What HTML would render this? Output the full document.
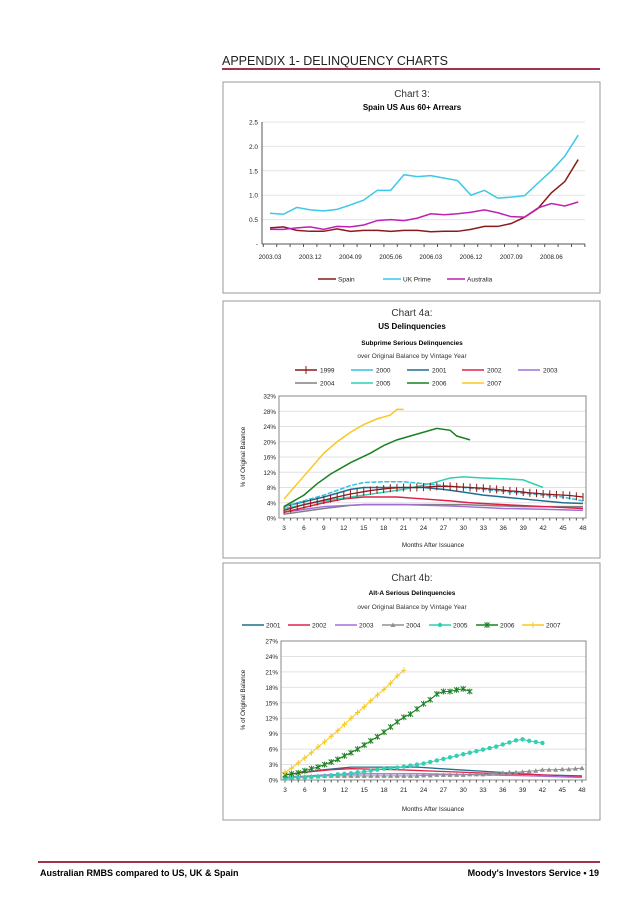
<!DOCTYPE html>
<html><head><meta charset="utf-8"><style>
body{margin:0;background:#fff;}
svg text{font-family:"Liberation Sans",sans-serif;}
</style></head><body>
<svg id="pg" width="638" height="903" xmlns="http://www.w3.org/2000/svg">
<text x="222" y="65" font-size="12.5" fill="#222">APPENDIX 1- DELINQUENCY CHARTS</text>
<line x1="222" y1="69" x2="600" y2="69" stroke="#a0344a" stroke-width="2"/>
<rect x="223" y="82" width="377" height="211" fill="#fff" stroke="#999"/>
<rect x="223" y="301" width="377" height="257" fill="#fff" stroke="#999"/>
<rect x="223" y="563" width="377" height="257" fill="#fff" stroke="#999"/>
<text x="412" y="97" font-size="10" text-anchor="middle" fill="#333">Chart 3:</text>
<text x="412" y="110" font-size="8" font-weight="bold" text-anchor="middle">Spain US Aus 60+ Arrears</text>
<text x="412" y="316" font-size="10" text-anchor="middle" fill="#333">Chart 4a:</text>
<text x="412" y="329" font-size="8" font-weight="bold" text-anchor="middle">US Delinquencies</text>
<text x="412" y="345" font-size="6.5" font-weight="bold" text-anchor="middle">Subprime Serious Delinquencies</text>
<text x="412" y="358" font-size="6.5" text-anchor="middle" fill="#333">over Original Balance by Vintage Year</text>
<text x="412" y="581" font-size="10" text-anchor="middle" fill="#333">Chart 4b:</text>
<text x="412" y="595" font-size="6.5" font-weight="bold" text-anchor="middle">Alt-A Serious Delinquencies</text>
<text x="412" y="609" font-size="6.5" text-anchor="middle" fill="#333">over Original Balance by Vintage Year</text>
<line x1="38" y1="862" x2="600" y2="862" stroke="#a0344a" stroke-width="2"/>
<text x="40" y="876" font-size="9" font-weight="bold">Australian RMBS compared to US, UK &amp; Spain</text>
<text x="599" y="876" font-size="9" font-weight="bold" text-anchor="end">Moody's Investors Service • 19</text>
<g id="c3"></g><g id="c4a"></g><g id="c4b"></g>
</svg>
<script>
// Chart 3 data
const c3Cats=["2003.03","2003.12","2004.09","2005.06","2006.03","2006.12","2007.09","2008.06"];
const c3Ticks=[0,0.5,1.0,1.5,2.0,2.5];
const spain=[0.33,0.35,0.28,0.26,0.26,0.31,0.26,0.28,0.28,0.26,0.28,0.28,0.25,0.26,0.26,0.30,0.36,0.36,0.42,0.55,0.73,1.05,1.28,1.73];
const ukPrime=[0.63,0.61,0.75,0.70,0.68,0.71,0.80,0.90,1.10,1.10,1.42,1.38,1.40,1.35,1.30,1.00,1.10,0.94,0.96,0.99,1.25,1.50,1.80,2.23];
const australia=[0.30,0.30,0.33,0.35,0.30,0.36,0.35,0.39,0.48,0.50,0.48,0.53,0.62,0.60,0.62,0.65,0.70,0.64,0.56,0.55,0.74,0.83,0.78,0.86];
// Chart 4a data
const monthTicks=[3,6,9,12,15,18,21,24,27,30,33,36,39,42,45,48];
const c4aTicks=[0,4,8,12,16,20,24,28,32];
const a1999=[2,2.5,3,3.5,3.9,4.3,4.7,5.1,5.5,5.9,6.3,6.6,6.9,7.2,7.4,7.6,7.8,7.9,8,8,8,8.1,8.2,8.3,8.3,8.3,8.2,8.1,8,7.9,7.8,7.6,7.5,7.3,7.1,7,6.8,6.6,6.5,6.3,6.2,6.1,6,5.9,5.7,5.5];
const a2000m=[3,9,13,15,18,21,24,27,30,33,36,39,42,45,48];
const a2000v=[3,6,8.5,9.3,9.5,9.5,9,8.5,8,7.5,7,6.5,6,5.5,4.5];
const a2001m=[3,9,13,15,24,27,30,33,36,39,42,45,48];
const a2001v=[3,5.5,7.5,8,8,7.5,6.8,6,5.5,5,4.5,4,3.8];
const a2002m=[3,9,12,15,20,24,28,31,36,42,48];
const a2002v=[1.5,4,5,5.5,5.5,5,4.5,4,3.5,3,2.5];
const a2003m=[3,9,15,21,27,30,36,42,48];
const a2003v=[1.5,3,3.5,3.5,3.2,3,2.5,2.3,2];
const a2004m=[3,9,13,15,30,33,39,48];
const a2004v=[1,2.5,3.3,3.5,3.5,3.3,3,3];
const a2005m=[3,9,15,21,25,28,30,33,36,39,42];
const a2005v=[2.5,4.5,6,7.5,9,10.5,10.8,10.5,10.3,10,8];
const a2006m=[3,6,8,10,13,16,18,20,23,26,28,29,31];
const a2006v=[3,6,9,11.5,14.5,17,19,20.5,22,23.5,23,21.5,20.5];
const a2007m=[3,5,7,9,11,13,15,17,19,20,21];
const a2007v=[5,9,13,17,20,22.5,24.5,26,27,28.5,28.5];
// Chart 4b data
const c4bTicks=[0,3,6,9,12,15,18,21,24,27];
const b2001m=[3,9,13,18,23,29,33,38,42,48];
const b2001v=[1,2,2.5,2.5,2.5,2,1.7,1.3,1,0.8];
const b2002m=[3,6,10,13,20,26,30,36,42,48];
const b2002v=[1,1.5,2,2.2,2,1.7,1.5,1.2,1,0.7];
const b2003m=[3,9,15,24,33,40,48];
const b2003v=[0.5,1,1.2,1.2,1,0.8,0.5];
const b2004=[0.5,0.5,0.6,0.6,0.7,0.7,0.8,0.8,0.8,0.8,0.8,0.8,0.8,0.8,0.8,0.8,0.8,0.8,0.8,0.8,0.8,0.9,0.9,1.0,1.0,1.0,1.0,1.0,1.1,1.1,1.1,1.2,1.3,1.4,1.5,1.5,1.6,1.7,1.8,2.0,2.0,2.0,2.1,2.1,2.2,2.3];
const b2005=[0.3,0.4,0.5,0.5,0.6,0.7,0.8,0.9,1.1,1.2,1.3,1.5,1.6,1.8,2.0,2.2,2.3,2.4,2.6,2.8,3.0,3.2,3.5,3.8,4.1,4.4,4.7,5.0,5.3,5.6,5.9,6.2,6.5,6.9,7.3,7.7,7.9,7.6,7.4,7.2];
const b2006=[1.0,1.2,1.4,1.8,2.2,2.5,3.0,3.5,4.0,4.7,5.3,6.0,6.8,7.6,8.4,9.3,10.3,11.3,12.2,12.8,13.8,14.8,15.6,16.7,17.2,17.2,17.5,17.7,17.2];
const b2007=[1.5,2.3,3.3,4.3,5.3,6.4,7.4,8.5,9.6,10.8,12.0,13.1,14.2,15.4,16.5,17.6,18.8,20.2,21.3];

const NS="http://www.w3.org/2000/svg";
function mk(p,t,a){const e=document.createElementNS(NS,t);for(const k in a)e.setAttribute(k,a[k]);p.appendChild(e);return e;}
function txt(p,x,y,s,sz,anc){const e=mk(p,'text',{x:x,y:y,'font-size':sz,'text-anchor':anc||'start',fill:'#222'});e.textContent=s;return e;}

// ---------- Chart 3
(function(){
const g=document.getElementById('c3');
const L=262,R=585,T=122,B=244,x0=270,step=13.4;
const y=v=>B-(v/2.5)*(B-T);
const x=i=>x0+i*step;
c3Ticks.forEach(t=>{
 const gl=mk(g,'line',{x1:L,x2:R,y1:y(t),y2:y(t),stroke:'#e4e4e4'});
 
 
 const tl=txt(g,L-4,y(t)+2.5,t===0?'-':t.toFixed(1),6.5,'end');
 
 
});
mk(g,'line',{x1:L,x2:L,y1:T,y2:B,stroke:'#555'});
mk(g,'line',{x1:L,x2:R,y1:B,y2:B,stroke:'#555'});
for(let i=0;i<25;i++){mk(g,'line',{x1:x(i)-6.7,x2:x(i)-6.7,y1:B,y2:B+3,stroke:'#555'});}
c3Cats.forEach((c,i)=>{const t=txt(g,x(i*3),B+15,c,6.3,'middle');
 
 });
const ser=[[spain,'#8b1a1a','spain'],[ukPrime,'#3cc8e8','uk-prime'],[australia,'#c020b0','australia']];
ser.forEach(([d,c,n])=>{
 const p=mk(g,'polyline',{points:d.map((v,i)=>x(i)+','+y(v)).join(' '),fill:'none',stroke:c,'stroke-width':1.5});
 
 
});
const leg=[['Spain','#8b1a1a',318],['UK Prime','#3cc8e8',383],['Australia','#c020b0',447]];
leg.forEach(([s,c,lx])=>{
 const e=mk(g,'line',{x1:lx,x2:lx+18,y1:279,y2:279,stroke:c,'stroke-width':1.5});
 
 
 const t=txt(g,lx+20,281.5,s,6.5);
 
 
});
})();

function lineChart(gid,L,R,T,B,xa,xb,ymax,ticks){
 const g=document.getElementById(gid);
 const y=v=>B-(v/ymax)*(B-T);
 const x=m=>xa+(m-3)*(xb-xa)/45;
 ticks.forEach(t=>{
  const gl=mk(g,'line',{x1:L,x2:R,y1:y(t),y2:y(t),stroke:'#e2e2e2'});
  
  
  const tl=txt(g,L-3,y(t)+2.5,t+'%',6.3,'end');
  
  
 });
 mk(g,'rect',{x:L,y:T,width:R-L,height:B-T,fill:'none',stroke:'#888'});
 for(let m=3;m<=48;m++)mk(g,'line',{x1:x(m),x2:x(m),y1:B,y2:B+2.5,stroke:'#555'});
 monthTicks.forEach(m=>{const t=txt(g,x(m),B+12,String(m),6.5,'middle');
  
  });
 return {g,x,y};
}
function drawMarker(g,type,px,py,c){
 if(type==='plus'){mk(g,'line',{x1:px,x2:px,y1:py-4,y2:py+4,stroke:c,'stroke-width':1});}
 else if(type==='tri'){mk(g,'polygon',{points:`${px},${py-2.5} ${px-2.5},${py+2} ${px+2.5},${py+2}`,fill:c});}
 else if(type==='dot'){mk(g,'circle',{cx:px,cy:py,r:2.2,fill:c});}
 else if(type==='star'){mk(g,'path',{d:`M${px-2.5},${py-2.5}L${px+2.5},${py+2.5}M${px+2.5},${py-2.5}L${px-2.5},${py+2.5}M${px},${py-3}L${px},${py+3}`,stroke:c,'stroke-width':1});}
 else if(type==='cross'){mk(g,'path',{d:`M${px-2.5},${py}L${px+2.5},${py}M${px},${py-3}L${px},${py+3}`,stroke:c,'stroke-width':1});}
}

// ---------- Chart 4a
(function(){
const {g,x,y}=lineChart('c4a',279,586,396,518,284,583,32,c4aTicks);
const S=[[a2004m,a2004v,'#808080','2004',null],[a2003m,a2003v,'#a070d8','2003',null],[a2002m,a2002v,'#e0204a','2002',null],[a2001m,a2001v,'#1f6f8f','2001',null],[a2005m,a2005v,'#30d0b0','2005',null],[a2000m,a2000v,'#38c0e0','2000','5,1.5'],[a2006m,a2006v,'#1a8020','2006',null],[a2007m,a2007v,'#f8c820','2007',null]];
S.forEach(([m,v,c,n,da])=>{
 const p=mk(g,'polyline',{points:m.map((mm,i)=>x(mm)+','+y(v[i])).join(' '),fill:'none',stroke:c,'stroke-width':1.5});
 if(da)p.setAttribute('stroke-dasharray',da);
 
 
});
const p99=mk(g,'polyline',{points:a1999.map((v,i)=>x(i+3)+','+y(v)).join(' '),fill:'none',stroke:'#8b1a1a','stroke-width':1.3});


a1999.forEach((v,i)=>drawMarker(g,'plus',x(i+3),y(v),'#8b1a1a'));
const leg=[['1999','#8b1a1a',295,370],['2000','#38c0e0',351,370],['2001','#1f6f8f',407,370],['2002','#e0204a',462,370],['2003','#a070d8',518,370],['2004','#808080',295,383],['2005','#30d0b0',351,383],['2006','#1a8020',407,383],['2007','#f8c820',462,383]];
leg.forEach(([s,c,lx,ly])=>{
 const e=mk(g,'line',{x1:lx,x2:lx+22,y1:ly,y2:ly,stroke:c,'stroke-width':1.5});
 
 
 if(s==='1999')drawMarker(g,'plus',lx+11,ly,c);
 const t=txt(g,lx+25,ly+2.5,s,6.5);
 
 
});
const yt=txt(g,0,0,'% of Original Balance',6.3,'middle');
yt.setAttribute('transform','translate(245,457) rotate(-90)');


const xt=txt(g,433,547,'Months After Issuance',6.3,'middle');


})();

// ---------- Chart 4b
(function(){
const {g,x,y}=lineChart('c4b',281,586,641,780,285,582,27,c4bTicks);
const sparse=[[b2001m,b2001v,'#1f6f8f','2001'],[b2002m,b2002v,'#e0204a','2002'],[b2003m,b2003v,'#a070d8','2003']];
sparse.forEach(([m,v,c,n])=>{
 const p=mk(g,'polyline',{points:m.map((mm,i)=>x(mm)+','+y(v[i])).join(' '),fill:'none',stroke:c,'stroke-width':1.3});
 
 
});
const monthly=[[b2004,'#909090','tri','2004'],[b2005,'#30d0b0','dot','2005'],[b2006,'#1a8020','star','2006'],[b2007,'#f8c820','cross','2007']];
monthly.forEach(([v,c,mt,n])=>{
 const p=mk(g,'polyline',{points:v.map((vv,i)=>x(i+3)+','+y(vv)).join(' '),fill:'none',stroke:c,'stroke-width':1});
 
 
 v.forEach((vv,i)=>drawMarker(g,mt,x(i+3),y(vv),c));
});
const leg=[['2001','#1f6f8f',264,null],['2002','#e0204a',310,null],['2003','#a070d8',357,null],['2004','#909090',404,'tri'],['2005','#30d0b0',451,'dot'],['2006','#1a8020',498,'star'],['2007','#f8c820',544,'cross']];
leg.forEach(([s,c,lx,mt])=>{
 const e=mk(g,'line',{x1:lx-22,x2:lx,y1:625,y2:625,stroke:c,'stroke-width':1.5});
 
 
 if(mt)drawMarker(g,mt,lx-11,625,c);
 const t=txt(g,lx+2,627.5,s,6.5);
 
 
});
const yt=txt(g,0,0,'% of Original Balance',6.3,'middle');
yt.setAttribute('transform','translate(245,700) rotate(-90)');


const xt=txt(g,433,811,'Months After Issuance',6.3,'middle');


})();
</script>
</body></html>
